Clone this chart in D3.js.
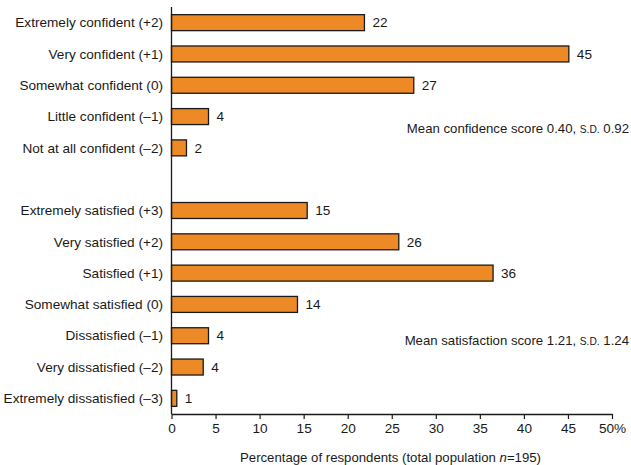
<!DOCTYPE html>
<html><head><meta charset="utf-8">
<script src="https://cdn.jsdelivr.net/npm/d3@7"></script>
<style>body{margin:0;background:#fff}svg{font-family:"Liberation Sans",Arial,Helvetica,sans-serif}</style>
</head><body><svg id="c" width="631" height="465"></svg>
<script>
const confCategories = ["Extremely confident (+2)","Very confident (+1)","Somewhat confident (0)","Little confident (\u20131)","Not at all confident (\u20132)"];
const confValues = [21.9, 45.1, 27.5, 4.2, 1.7];
const confLabels = ["22","45","27","4","2"];
const satCategories = ["Extremely satisfied (+3)","Very satisfied (+2)","Satisfied (+1)","Somewhat satisfied (0)","Dissatisfied (\u20131)","Very dissatisfied (\u20132)","Extremely dissatisfied (\u20133)"];
const satValues = [15.4, 25.8, 36.5, 14.3, 4.2, 3.6, 0.6];
const satLabels = ["15","26","36","14","4","4","1"];
const xTicks = [0,5,10,15,20,25,30,35,40,45,50];

const svg = d3.select("#c");
const fs = 13.6;
const fsSmall = 13.2;
const rows = [];
confCategories.forEach((c,i)=>rows.push({key:"c"+i,cat:c,v:confValues[i],lab:confLabels[i]}));
rows.push({key:"gap",cat:"",v:null});
satCategories.forEach((c,i)=>rows.push({key:"s"+i,cat:c,v:satValues[i],lab:satLabels[i]}));

const x = d3.scaleLinear().domain([0,50]).range([171.5,612]);
const y = d3.scaleBand().domain(rows.map(r=>r.key)).range([7,414]).paddingInner(0.49).paddingOuter(0.245);

const data = rows.filter(r=>r.v!==null);
svg.append("g").selectAll("rect").data(data).join("rect")
  .attr("x", x(0)).attr("y", d=>y(d.key)).attr("width", d=>x(d.v)-x(0)).attr("height", y.bandwidth())
  .attr("fill","#ee8a26").attr("stroke","#1a1a1a").attr("stroke-width",1.3);

svg.append("g").selectAll("text").data(data).join("text")
  .attr("x", d=>x(d.v)+8).attr("y", d=>y(d.key)+y.bandwidth()/2).attr("dy","0.35em")
  .attr("font-size",fs).attr("fill","#1a1a1a").text(d=>d.lab);

svg.append("g").selectAll("text").data(data).join("text")
  .attr("x", 163).attr("y", d=>y(d.key)+y.bandwidth()/2).attr("dy","0.35em")
  .attr("text-anchor","end").attr("font-size",fs).attr("fill","#1a1a1a").text(d=>d.cat);

// vertical axis line
svg.append("line").attr("x1",x(0)).attr("x2",x(0)).attr("y1",7).attr("y2",414).attr("stroke","#1a1a1a").attr("stroke-width",1.3);

const xa = svg.append("g").attr("transform","translate(0,414)")
  .call(d3.axisBottom(x).tickValues(xTicks).tickSize(5).tickSizeOuter(0).tickFormat(d=>d===50?"50%":d));
xa.select(".domain").attr("stroke","#1a1a1a").attr("stroke-width",1.3);
xa.selectAll(".tick line").attr("stroke","#1a1a1a").attr("stroke-width",1.2);
xa.selectAll(".tick text").attr("font-size",fs).attr("fill","#1a1a1a").attr("font-family","Liberation Sans, Arial, sans-serif").attr("y",9);

const title = svg.append("text").attr("x",390.5).attr("y",462).attr("text-anchor","middle").attr("font-size",fsSmall).attr("fill","#1a1a1a");
title.append("tspan").text("Percentage of respondents (total population ");
title.append("tspan").attr("font-style","italic").text("n");
title.append("tspan").text("=195)");

function note(ypos, pre, post){
  const t = svg.append("text").attr("x",629).attr("y",ypos).attr("text-anchor","end").attr("font-size",fsSmall).attr("fill","#1a1a1a");
  t.append("tspan").text(pre);
  t.append("tspan").attr("font-size",10.2).text("S.D.");
  t.append("tspan").text(" "+post);
}
note(132.5, "Mean confidence score 0.40, ", "0.92");
note(345, "Mean satisfaction score 1.21, ", "1.24");
</script></body></html>
